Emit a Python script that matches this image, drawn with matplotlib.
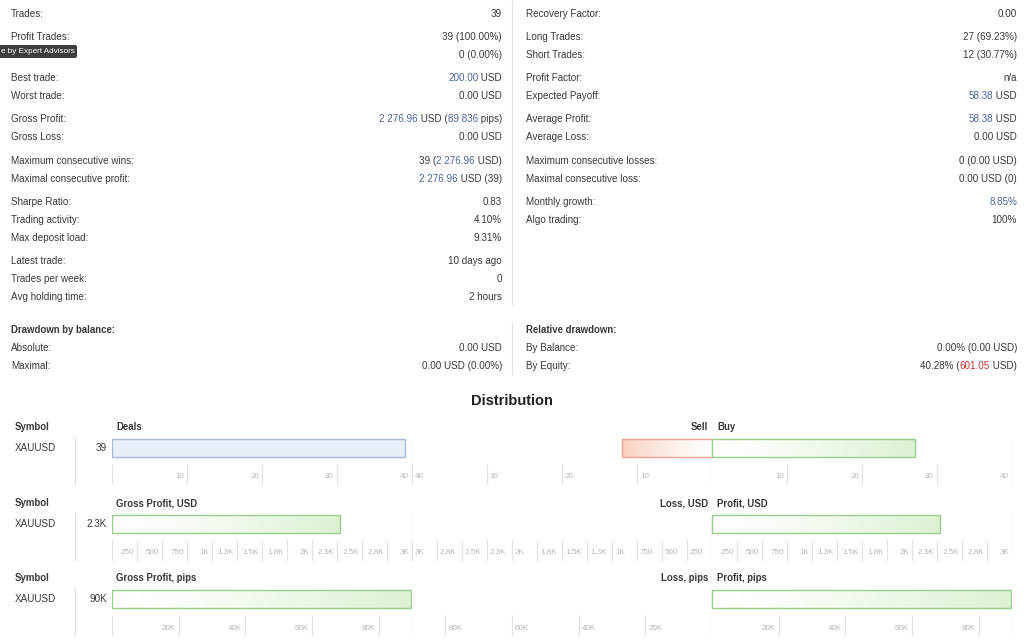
import math
import matplotlib
matplotlib.use('Agg')
import matplotlib.pyplot as plt
import matplotlib.transforms as mtransforms
from matplotlib.colors import to_rgb
from matplotlib.patches import FancyBboxPatch
import numpy as np

plt.rcParams['font.family'] = ['Liberation Sans', 'DejaVu Sans']

W, H = 1024, 640
TEXT = '#383838'
BLUE = '#4a62a3'
RED = '#cc2f2f'
GRID = '#e2e2e2'
TICK_TEXT = '#b5b5b5'
COLORS = {'k': TEXT, 'b': BLUE, 'r': RED}

# statistics block, value pieces: 'k' plain, 'b' blue, 'r' red
left_labels = ['Trades:', 'Profit Trades:', 'Loss Trades:', 'Best trade:', 'Worst trade:',
               'Gross Profit:', 'Gross Loss:', 'Maximum consecutive wins:',
               'Maximal consecutive profit:', 'Sharpe Ratio:', 'Trading activity:',
               'Max deposit load:', 'Latest trade:', 'Trades per week:', 'Avg holding time:']
left_values = [
    [('39', 'k')],
    [('39 (100.00%)', 'k')],
    [('0 (0.00%)', 'k')],
    [('200.00', 'b'), (' USD', 'k')],
    [('0.00 USD', 'k')],
    [('2 276.96', 'b'), (' USD (', 'k'), ('89 836', 'b'), (' pips)', 'k')],
    [('0.00 USD', 'k')],
    [('39 (', 'k'), ('2 276.96', 'b'), (' USD)', 'k')],
    [('2 276.96', 'b'), (' USD (39)', 'k')],
    [('0.83', 'k')],
    [('4.10%', 'k')],
    [('9.31%', 'k')],
    [('10 days ago', 'k')],
    [('0', 'k')],
    [('2 hours', 'k')],
]
left_rows_y = [14, 37, 55, 78, 96, 119, 137, 161, 179, 202, 220, 238, 261, 279, 297]
# the "Loss Trades:" label sits under a tooltip in the screenshot
hidden_label = 'Loss Trades:'
tooltip_text = 'e by Expert Advisors'

right_labels = ['Recovery Factor:', 'Long Trades:', 'Short Trades:', 'Profit Factor:',
                'Expected Payoff:', 'Average Profit:', 'Average Loss:',
                'Maximum consecutive losses:', 'Maximal consecutive loss:',
                'Monthly growth:', 'Algo trading:']
right_values = [
    [('0.00', 'k')],
    [('27 (69.23%)', 'k')],
    [('12 (30.77%)', 'k')],
    [('n/a', 'k')],
    [('58.38', 'b'), (' USD', 'k')],
    [('58.38', 'b'), (' USD', 'k')],
    [('0.00 USD', 'k')],
    [('0 (0.00 USD)', 'k')],
    [('0.00 USD (0)', 'k')],
    [('8.85%', 'b')],
    [('100%', 'k')],
]
right_rows_y = left_rows_y[:11]

dd_left_title = 'Drawdown by balance:'
dd_left_labels = ['Absolute:', 'Maximal:']
dd_left_values = [[('0.00 USD', 'k')], [('0.00 USD (0.00%)', 'k')]]
dd_right_title = 'Relative drawdown:'
dd_right_labels = ['By Balance:', 'By Equity:']
dd_right_values = [[('0.00% (0.00 USD)', 'k')],
                   [('40.28% (', 'k'), ('601.05', 'r'), (' USD)', 'k')]]
dd_rows_y = [330, 348, 366]

# distribution block
symbol = 'XAUUSD'
dist_titles = [('Deals', 'Sell', 'Buy'),
               ('Gross Profit, USD', 'Loss, USD', 'Profit, USD'),
               ('Gross Profit, pips', 'Loss, pips', 'Profit, pips')]
deals_total = 39
deals_sell = 12
deals_buy = 27
gross_profit_usd = 2276.96
loss_usd = 0
profit_usd = 2276.96
gross_profit_pips = 89836
loss_pips = 0
profit_pips = 89836
dist_values = [(deals_total, deals_sell, deals_buy),
               (gross_profit_usd, loss_usd, profit_usd),
               (gross_profit_pips, loss_pips, profit_pips)]
axis_max = [40, 3000, 90000]
tick_step = [10, 250, 20000]


def fmt_k(v):
    if v < 1000:
        return str(int(round(v)))
    k = math.floor(v / 100 + 0.5) / 10
    return ('%.1f' % k).rstrip('0').rstrip('.') + 'K'


def fmt_value(v):
    if v < 1000:
        return str(int(round(v)))
    mag = 10 ** (math.floor(math.log10(v)) - 1)
    return fmt_k(round(v / mag) * mag)


fig = plt.figure(figsize=(W / 100, H / 100), dpi=100)
fig.patch.set_facecolor('white')
bg = fig.add_axes([0, 0, 1, 1])
bg.set_xlim(0, W)
bg.set_ylim(H, 0)
bg.axis('off')
renderer = fig.canvas.get_renderer()

LABEL_FS = 7.1
BOLD_FS = 6.9


def measure(s, **kw):
    t = bg.text(0, 0, s, **kw)
    w = t.get_window_extent(renderer).width
    t.remove()
    return w


def rich_right(x, y, pieces, fs=LABEL_FS):
    full = ''.join(p for p, _ in pieces)
    left = x - measure(full, fontsize=fs)
    acc = ''
    for piece, c in pieces:
        acc += piece
        right = left + measure(acc, fontsize=fs)
        bg.text(right, y, piece, ha='right', va='center', fontsize=fs,
                color=COLORS[c])


def stat_column(labels, values, rows_y, x_label, x_value):
    for lab, val, y in zip(labels, values, rows_y):
        if lab != hidden_label:
            bg.text(x_label, y, lab, ha='left', va='center', fontsize=LABEL_FS, color=TEXT)
        rich_right(x_value, y, val)


stat_column(left_labels, left_values, left_rows_y, 11, 502)
stat_column(right_labels, right_values, right_rows_y, 526, 1017)

bg.text(11, dd_rows_y[0], dd_left_title, ha='left', va='center', fontsize=BOLD_FS,
        fontweight='bold', color=TEXT)
stat_column(dd_left_labels, dd_left_values, dd_rows_y[1:], 11, 502)
bg.text(526, dd_rows_y[0], dd_right_title, ha='left', va='center', fontsize=BOLD_FS,
        fontweight='bold', color=TEXT)
stat_column(dd_right_labels, dd_right_values, dd_rows_y[1:], 526, 1017)

bg.vlines(512, 0, 305, color=GRID, lw=0.9)
bg.vlines(512, 322, 375, color=GRID, lw=0.9)

# tooltip cut by the left edge
bg.add_patch(FancyBboxPatch((-10, 45), 87, 13, boxstyle='round,pad=0,rounding_size=2',
                            fc='#3d3d3d', ec='none', zorder=10))
bg.text(1, 51.5, tooltip_text, ha='left', va='center', fontsize=5.9,
        color='white', zorder=11)

bg.text(512, 401, 'Distribution', ha='center', va='center', fontsize=10.5,
        fontweight='bold', color='#222222')

PANEL_H = 49
BAR_Y = 12
BAR_H = 18
TICK_TOP = 28
LABEL_Y = 41
panel_x = [112, 412, 712, 1012]
row_tops = [436, 512, 587]


def add_panel(x0, x1, top):
    return fig.add_axes([x0 / W, 1 - (top + PANEL_H) / H, (x1 - x0) / W, PANEL_H / H])


def gradient_bar(ax, value, c_from, c_to, edge):
    if value > 0:
        g = np.linspace(0, 1, 256) ** 1.3
        cols = (np.array(to_rgb(c_from))[None, :] * (1 - g)[:, None]
                + np.array(to_rgb(c_to))[None, :] * g[:, None])
        ax.imshow(cols[None, :, :], extent=(0, value, BAR_Y + BAR_H / 2, BAR_Y - BAR_H / 2),
                  aspect='auto', interpolation='bilinear', zorder=1)
    ax.barh(BAR_Y, value, height=BAR_H, left=0, facecolor='none', edgecolor=edge,
            lw=1, zorder=2)


for r, top in enumerate(row_tops):
    vmax = axis_max[r]
    step = tick_step[r]
    main_title, neg_title, pos_title = dist_titles[r]
    total, neg, pos = dist_values[r]

    bg.text(15, top - 9, 'Symbol', ha='left', va='center', fontsize=BOLD_FS,
            fontweight='bold', color=TEXT)
    bg.text(116, top - 9, main_title, ha='left', va='center', fontsize=BOLD_FS,
            fontweight='bold', color=TEXT)
    bg.text(708, top - 9, neg_title, ha='right', va='center', fontsize=BOLD_FS,
            fontweight='bold', color=TEXT)
    bg.text(717, top - 9, pos_title, ha='left', va='center', fontsize=BOLD_FS,
            fontweight='bold', color=TEXT)
    bg.text(15, top + BAR_Y, symbol, ha='left', va='center', fontsize=LABEL_FS, color=TEXT)
    bg.text(107, top + BAR_Y, fmt_value(total), ha='right', va='center',
            fontsize=LABEL_FS, color=TEXT)
    bg.vlines(75, top, top + PANEL_H, color=GRID, lw=0.9)

    ticks = np.arange(step, vmax + 1e-9, step)
    axes = [add_panel(panel_x[i], panel_x[i + 1], top) for i in range(3)]
    for i, ax in enumerate(axes):
        ax.axis('off')
        ax.patch.set_alpha(0)
        ax.vlines(ticks, TICK_TOP, PANEL_H, color=GRID, lw=0.9, zorder=0)
        if i == 1:
            off = mtransforms.offset_copy(ax.transData, fig, x=3, y=0, units='dots')
            ha = 'left'
        else:
            off = mtransforms.offset_copy(ax.transData, fig, x=-3, y=0, units='dots')
            ha = 'right'
        for t in ticks:
            ax.text(t, LABEL_Y, fmt_k(t), transform=off, ha=ha, va='center',
                    fontsize=5.8, color=TICK_TEXT)

    left_ax, mid_ax, right_ax = axes
    if r == 0:
        left_ax.barh(BAR_Y, total, height=BAR_H, left=0, facecolor='#e9eff9',
                     edgecolor='#abb8d7', lw=1, zorder=2)
    else:
        gradient_bar(left_ax, total, '#ffffff', '#dcf1d2', '#96cf8a')
    gradient_bar(mid_ax, neg, '#ffffff', '#f9d0c0', '#eba394')
    gradient_bar(right_ax, pos, '#ffffff', '#dcf1d2', '#96cf8a')

    left_ax.vlines(0, TICK_TOP, PANEL_H, color=GRID, lw=0.9)
    left_ax.vlines(vmax, 0, PANEL_H, color=GRID, lw=0.9)
    mid_ax.vlines(0, 0, PANEL_H, color='#d9d9d9', lw=0.9, zorder=5)
    right_ax.vlines(vmax, 0, PANEL_H, color=GRID, lw=0.9)

    for i, ax in enumerate(axes):
        if i == 1:
            ax.set_xlim(vmax, 0)
        else:
            ax.set_xlim(0, vmax)
        ax.set_ylim(PANEL_H, 0)

fig.savefig('out.png', dpi=100, facecolor='white')
